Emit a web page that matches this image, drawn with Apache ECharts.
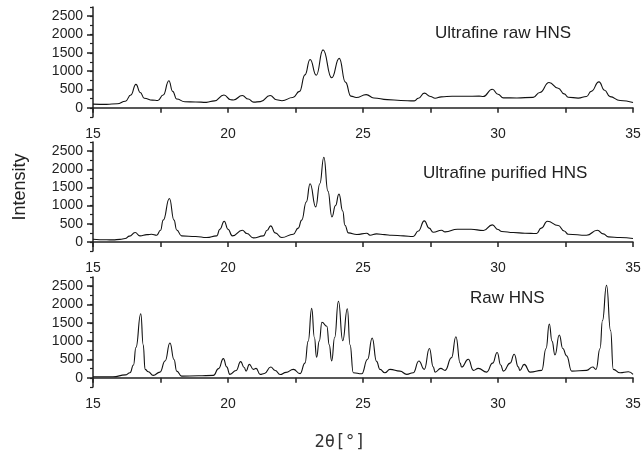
<!DOCTYPE html>
<html>
<head>
<meta charset="utf-8">
<script src="https://cdn.jsdelivr.net/npm/echarts@6/dist/echarts.min.js"></script>
<style>
html, body { margin: 0; padding: 0; background: #fff; }
#main { width: 643px; height: 459px; }
</style>
</head>
<body>
<div id="main"></div>
<script>
// [2theta, intensity]
var ufRaw = [
	[15.0, 100], [15.5, 95], [15.9, 110], [16.2, 180], [16.4, 350], [16.59, 640], [16.75, 420], [16.9, 260],
	[17.2, 210], [17.4, 200], [17.6, 350], [17.81, 740], [17.95, 450], [18.1, 240], [18.4, 165], [18.8, 160],
	[19.2, 150], [19.5, 190], [19.85, 350], [20.1, 220], [20.2, 215], [20.53, 335], [20.75, 240], [20.95, 155],
	[21.2, 170], [21.56, 335], [21.8, 220], [22.0, 195], [22.4, 280], [22.65, 450], [22.85, 900], [23.04, 1320],
	[23.27, 890], [23.52, 1580], [23.84, 820], [24.12, 1350], [24.35, 700], [24.55, 320], [24.75, 280], [25.12, 360],
	[25.4, 270], [25.9, 225], [26.4, 200], [26.9, 190], [27.05, 260], [27.27, 400], [27.5, 310], [27.67, 260],
	[27.9, 300], [28.3, 315], [28.8, 315], [29.3, 320], [29.45, 310], [29.79, 507], [30.0, 370], [30.2, 272],
	[30.7, 270], [31.3, 285], [31.55, 420], [31.89, 690], [32.23, 535], [32.45, 380], [32.6, 290], [32.97, 265],
	[33.28, 310], [33.45, 450], [33.74, 707], [33.95, 480], [34.15, 305], [34.52, 200], [35.0, 145]
];
var ufPurified = [
	[15.0, 74], [15.5, 60], [15.74, 55], [16.0, 70], [16.19, 92], [16.35, 160], [16.56, 258], [16.74, 166],
	[17.0, 200], [17.17, 212], [17.36, 184], [17.5, 320], [17.6, 600], [17.83, 1195], [18.0, 600], [18.1, 330],
	[18.28, 166], [18.8, 150], [19.21, 120], [19.58, 166], [19.7, 350], [19.86, 570], [20.0, 350], [20.16, 166],
	[20.53, 322], [20.7, 230], [20.94, 110], [21.31, 166], [21.45, 320], [21.58, 442], [21.75, 250], [21.99, 120],
	[22.42, 212], [22.6, 380], [22.73, 600], [22.9, 1100], [23.04, 1600], [23.25, 965], [23.4, 1600], [23.55, 2330],
	[23.7, 1400], [23.85, 690], [23.98, 1000], [24.11, 1315], [24.25, 850], [24.33, 460], [24.46, 248], [24.77, 204],
	[25.14, 240], [25.26, 184], [25.5, 220], [25.8, 200], [26.06, 184], [26.5, 165], [26.86, 150], [27.05, 300],
	[27.27, 580], [27.45, 380], [27.6, 267], [27.91, 322], [28.04, 276], [28.5, 350], [29.0, 350], [29.46, 313],
	[29.79, 469], [30.0, 340], [30.14, 286], [30.57, 258], [31.0, 240], [31.43, 230], [31.6, 380], [31.83, 570],
	[32.23, 451], [32.45, 300], [32.6, 212], [33.28, 184], [33.68, 322], [33.9, 220], [34.09, 138], [34.52, 120],
	[35.0, 92]
];
var rawHns = [
	[15.0, 28], [15.74, 28], [16.2, 80], [16.37, 138], [16.5, 350], [16.59, 827], [16.77, 1747], [16.86, 900],
	[16.93, 230], [17.05, 165], [17.23, 66], [17.48, 157], [17.67, 460], [17.85, 948], [18.0, 500], [18.1, 184],
	[18.28, 47], [18.9, 55], [19.46, 66], [19.65, 250], [19.83, 524], [19.95, 300], [20.07, 94], [20.3, 200],
	[20.47, 441], [20.6, 280], [20.67, 184], [20.79, 368], [20.94, 230], [21.04, 257], [21.19, 94], [21.35, 120],
	[21.58, 294], [21.75, 200], [21.93, 90], [22.15, 150], [22.42, 230], [22.67, 115], [22.85, 400], [22.97, 1000],
	[23.1, 1895], [23.2, 1100], [23.28, 560], [23.38, 1000], [23.48, 1516], [23.66, 1405], [23.75, 900], [23.84, 460],
	[23.95, 1100], [24.09, 2087], [24.25, 1012], [24.42, 1885], [24.52, 900], [24.64, 138], [24.95, 110], [25.17, 506],
	[25.34, 1086], [25.5, 450], [25.63, 230], [25.81, 138], [26.0, 230], [26.37, 184], [26.62, 94], [26.86, 138],
	[27.07, 460], [27.27, 230], [27.46, 800], [27.6, 300], [27.67, 157], [27.88, 257], [28.04, 203], [28.28, 551],
	[28.44, 1122], [28.6, 400], [28.65, 294], [28.9, 506], [29.09, 203], [29.27, 257], [29.58, 157], [29.8, 400],
	[29.97, 690], [30.1, 350], [30.2, 184], [30.45, 400], [30.6, 643], [30.75, 300], [30.81, 203], [30.97, 368],
	[31.19, 157], [31.62, 203], [31.78, 800], [31.9, 1470], [32.0, 1000], [32.11, 625], [32.27, 1168], [32.4, 800],
	[32.54, 598], [32.73, 184], [33.28, 203], [33.51, 294], [33.63, 230], [33.78, 800], [33.87, 1563], [34.02, 2527],
	[34.17, 1287], [34.27, 230], [34.52, 138], [34.83, 165], [35.0, 94]
];
var panelNames = ['Ultrafine raw HNS', 'Ultrafine purified HNS', 'Raw HNS'];
var xLabels = [15, 20, 25, 30, 35];
var yLabels = [0, 500, 1000, 1500, 2000, 2500];

var myChart = echarts.init(document.getElementById('main'));

var seriesData = [ufRaw, ufPurified, rawHns];
var gridTops = [7, 142, 277];
var gridHeights = [110, 109, 110];
var nameTops = [33, 173, 298];
var nameLefts = [435, 423, 470];
var axisColor = '#222';
var font = 'Liberation Sans, Arial, sans-serif';

var grids = [], xAxes = [], yAxes = [], series = [], texts = [];
for (var i = 0; i < 3; i++) {
	grids.push({ left: 93, right: 10, top: gridTops[i], height: gridHeights[i], outerBoundsMode: 'none' });
	xAxes.push({
		type: 'value',
		gridIndex: i,
		min: 15,
		max: 35,
		interval: 2.5,
		axisLine: { lineStyle: { color: axisColor, width: 1.5 } },
		axisTick: { length: 5, lineStyle: { color: axisColor, width: 1.5 } },
		axisLabel: {
			color: axisColor,
			fontSize: 14,
			fontFamily: font,
			margin: 10,
			formatter: function(v) {
				return xLabels.indexOf(v) >= 0 ? String(v) : '';
			}
		},
		splitLine: { show: false }
	});
	// axis line with the small ticks
	yAxes.push({
		type: 'value',
		gridIndex: i,
		position: 'left',
		min: -250,
		max: 2750,
		interval: 250,
		axisLine: { show: true, lineStyle: { color: axisColor, width: 1.5 } },
		axisTick: { length: 3, lineStyle: { color: axisColor, width: 1.2 } },
		axisLabel: { show: false },
		splitLine: { show: false }
	});
	// labels with the longer ticks
	yAxes.push({
		type: 'value',
		gridIndex: i,
		position: 'left',
		offset: 0,
		min: -250,
		max: 2750,
		axisLine: { show: false },
		axisTick: { show: true, length: 6, customValues: yLabels, lineStyle: { color: axisColor, width: 1.5 } },
		axisLabel: {
			customValues: yLabels,
			color: axisColor,
			fontSize: 14,
			fontFamily: font,
			margin: 10,
			formatter: function(v) {
				return String(v);
			}
		},
		splitLine: { show: false }
	});
	series.push({
		name: panelNames[i],
		type: 'line',
		xAxisIndex: i,
		yAxisIndex: i * 2,
		data: seriesData[i],
		showSymbol: false,
		smooth: 0.5,
		smoothMonotone: 'x',
		lineStyle: { color: '#111', width: 1.1 }
	});
	texts.push({
		type: 'text',
		x: nameLefts[i],
		y: nameTops[i],
		style: {
			text: panelNames[i],
			fontSize: 17,
			fontFamily: font,
			fill: '#222',
			align: 'left',
			verticalAlign: 'middle'
		}
	});
}

texts.push({
	type: 'text',
	x: 20,
	y: 187,
	rotation: Math.PI / 2,
	style: {
		text: 'Intensity',
		fontSize: 18,
		fontFamily: font,
		fill: '#222',
		align: 'center',
		verticalAlign: 'middle'
	}
});
texts.push({
	type: 'text',
	x: 340,
	y: 443,
	style: {
		text: '2θ[°]',
		fontSize: 17,
		fontFamily: 'DejaVu Sans Mono, monospace',
		fill: '#333',
		align: 'center',
		verticalAlign: 'middle'
	}
});

option = {
	animation: false,
	backgroundColor: '#fff',
	grid: grids,
	xAxis: xAxes,
	yAxis: yAxes,
	series: series,
	graphic: texts
};

myChart.setOption(option);
</script>
</body>
</html>
